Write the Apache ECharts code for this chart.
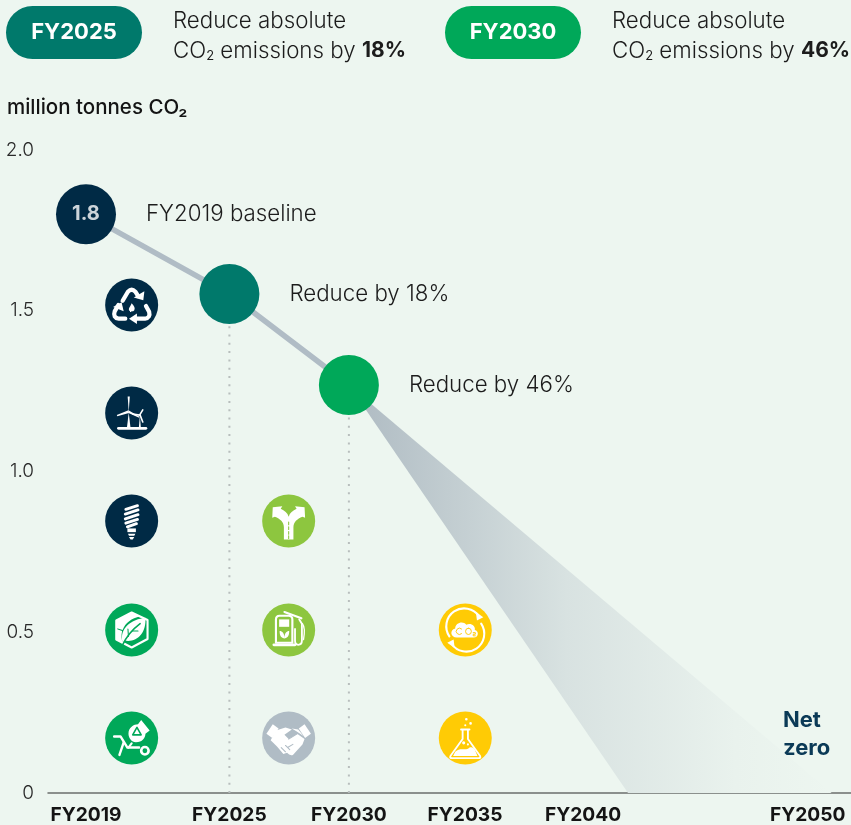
<!DOCTYPE html>
<html><head><meta charset="utf-8">
<style>html,body{margin:0;padding:0;background:#edf6f0}#c{width:851px;height:825px}</style>
<script src="https://cdn.jsdelivr.net/npm/echarts@6/dist/echarts.min.js"></script></head>
<body><div id="c"></div>
<script>
// ---- data ----
const yearTicks = [2019, 2025, 2030, 2034.86, 2039.8, 2049.2];
const yearLabels = ['FY2019', 'FY2025', 'FY2030', 'FY2035', 'FY2040', 'FY2050'];
const yTicks = [0, 0.5, 1.0, 1.5, 2.0];
const pathYears = [2019, 2025, 2030];
const pathValues = [1.8, 1.552, 1.269];
const pathColors = ['#002a45', '#00796b', '#00a859'];
const pathLabels = ['FY2019 baseline', 'Reduce by 18%', 'Reduce by 46%'];
const pathSizes = [60, 60, 60];
const wedgePoints = [[2030, 1.269], [2041.68, 0], [2050.2, 0]];
const iconX = [2020.91, 2020.91, 2020.91, 2020.91, 2020.91, 2027.48, 2027.48, 2027.48, 2034.87, 2034.87];
const iconY = [1.518, 1.182, 0.846, 0.507, 0.171, 0.846, 0.507, 0.171, 0.507, 0.171];
const iconColors = ['#002a45', '#002a45', '#002a45', '#00a859', '#00a859', '#8dc63f', '#8dc63f', '#b0bcc5', '#ffcb05', '#ffcb05'];
const iconNames = ['recycle', 'wind', 'bulb', 'cube', 'barrow', 'road', 'pump', 'hands', 'cycle', 'flask'];

// ---- icon glyphs in a 100x100 box: [path, fill, stroke, strokeWidth]; 'bg' is the disc colour ----
const W = '#fff';
const glyphs = {
  recycle: [
    ['M33 42 L43 25 Q50 18 57 25 L62 33', null, W, 8],
    ['M54 36 L72 41 L74 24 Z', W],
    ['M77 52 L83 63 Q86 74 75 76 L58 76', null, W, 8],
    ['M60 66 L45 76 L60 86 Z', W],
    ['M38 76 L26 76 Q14 74 18 62 L25 50', null, W, 8],
    ['M15 54 L31 45 L35 62 Z', W],
    ['M50 47 C55 52 57 56 55 60 C53 63 47 63 45 60 C44 55 48 53 50 47 Z', W]
  ],
  wind: [
    ['M25 79 H77', null, W, 5],
    ['M41 79 L44.500 49 L48 79 Z', W],
    ['M44.500 48 L42.500 19 L46.500 19 Z', W],
    ['M44 45 L22 54 L23 56 L45 50 Z', W],
    ['M44 45 L65 57 L64 59 L44 50 Z', W],
    ['M63.500 79 L65.500 55 L67.500 79 Z', W],
    ['M65 54 L71 44', null, W, 3],
    ['M65 54 L52 52', null, W, 3],
    ['M66 54 L71 67', null, W, 3]
  ],
  bulb: [
    ['M39 28 L61 21 M38 37 L62 29 M38 46 L62 38 M39 54 L61 47 M42 61 L59 55', null, W, 5.5],
    ['M42 64 H58 V71 H42 Z', W],
    ['M43 74 H57 L55 78 H45 Z M45 80 H55 L52 85 H48 Z', W]
  ],
  cube: [
    ['M50 17 L80 31 L80 67 L50 83 L21 68 L21 32 Z', null, W, 4],
    ['M21 32 L50 17 L66 24 C50 28 38 36 33 50 L21 46 Z', W],
    ['M21 48 L32 52 C30 60 31 68 33 74 L21 68 Z', W],
    ['M33 74 C26 46 50 30 76 27 C78 56 60 74 37 70 Z', W],
    ['M32 80 C40 62 50 50 66 38', null, 'bg', 3],
    ['M44 62 L43 48 M52 52 L62 52', null, 'bg', 2]
  ],
  barrow: [
    ['M44 42 C44 30 54 24 62 24 L68 16 L84 36 L76 42 C76 50 70 58 58 58 C50 58 44 50 44 42 Z', W],
    ['M60 30 L52 44 L68 44 Z', null, 'bg', 3],
    ['M17 47 H29 L42 68 H64', null, W, 4.500],
    ['M35 58 L27 82', null, W, 4.500],
    ['M75 74 m-7 0 a7 7 0 1 0 14 0 a7 7 0 1 0 -14 0', null, W, 5],
    ['M50 60 L44 68', null, W, 4]
  ],
  road: [
    ['M41 85 L41 62 C41 52 34 46 24 42 L19 44 L20 24 L38 22 L35 27 C42 30 48 35 50 42 C52 35 58 30 65 27 L62 22 L80 24 L81 44 L76 42 C66 46 59 52 59 62 L59 85 Z', W],
    ['M50 52 V57 M50 61 V66 M50 70 V75 M50 78 V83', null, 'bg', 2]
  ],
  pump: [
    ['M22 78 H62', null, W, 5],
    ['M26 74 V30 Q26 23 33 23 H50 Q57 23 57 30 V74 Z', null, W, 4],
    ['M32 30 H51 V44 H32 Z', W],
    ['M42 66 C33 65 33 56 33 52 C38 52 42 56 42 66 C42 56 46 52 51 52 C51 56 51 65 42 66 Z', W],
    ['M42 16 L74 28', null, W, 4],
    ['M70 30 L75 38 V70 Q75 78 68 78 Q62 78 62 70 V48', null, W, 3.500],
    ['M76 38 Q82 46 78 68', null, W, 2.500]
  ],
  hands: [
    ['M8 42 L20 24 L31 32 L19 50 Z', W],
    ['M92 42 L80 24 L69 32 L81 50 Z', W],
    ['M26 36 L44 30 L56 34 L42 44 L50 52 L66 42 L80 52 L76 62 L58 82 Q52 84 47 78 L40 80 L28 66 L16 54 Z', W],
    ['M56 32 L68 34 L78 46 L66 38 Z', W],
    ['M50 52 L66 42 M58 62 L48 68 M52 72 L44 64 M44 76 L36 68', null, 'bg', 2]
  ],
  cycle: [
    ['M20 62 A33 33 0 0 1 76 24', null, W, 4],
    ['M80 38 A33 33 0 0 1 24 76', null, W, 4],
    ['M70 16 L84 26 L72 32 Z', W],
    ['M30 84 L16 74 L28 68 Z', W],
    ['M34 64 C22 64 20 50 31 47 C31 36 46 32 52 40 C60 36 70 42 68 50 C76 52 76 64 66 64 Z', W],
    ['M43 48 A6 6 0 1 0 43 57 M56 46.500 a5.500 6 0 1 0 0.010 0 M65 55 h4 v3 h-4 v3 h4', null, 'bg', 1.8]
  ],
  flask: [
    ['M42 34 H58 M45 34 V52 L22 84 Q20 88 25 88 H75 Q80 88 78 84 L55 52 V34', null, W, 3.500],
    ['M31 76 C42 66 50 76 58 68 C62 66 66 68 68 72 L73 84 H27 Z', W],
    ['M52 12 a2.500 2.500 0 1 0 0.010 0 M60 20 a2.500 2.500 0 1 0 0.010 0 M50 24 a2 2 0 1 0 0.010 0 M47 56 a3 3 0 1 0 0.010 0 M55 60 a2 2 0 1 0 0.010 0', W]
  ]
};
const ICON_SIZE = 53;

const chart = echarts.init(document.getElementById('c'), null, {renderer: 'canvas'});
const FONT = 'Inter';
const INK = '#1c1c1c';
const BODY = 22.3;

function textLine(x, y, text, rich) {
  return {type: 'text', x: x, y: y, style: {text: text, fontFamily: FONT, fontWeight: 300, fontSize: BODY, fill: INK, rich: rich, verticalAlign: 'middle'}};
}
const headRich = {
  n: {fontFamily: FONT, fontWeight: 300, fontSize: BODY, color: INK},
  s: {fontFamily: FONT, fontWeight: 400, fontSize: 13, color: INK, verticalAlign: 'bottom', padding: [10, 0, 0, 0]},
  b: {fontFamily: FONT, fontWeight: 700, fontSize: 21, color: INK}
};
function badge(x, color, label) {
  return {type: 'rect', x: x, y: 6, shape: {width: 136, height: 53, r: 26.5}, style: {fill: color},
    textContent: {style: {text: label, fontFamily: FONT, fontWeight: 700, fontSize: 22, fill: '#fff', padding: [2, 0, 0, 0]}},
    textConfig: {position: 'inside'}};
}

chart.setOption({
  backgroundColor: '#edf6f0',
  animation: false,
  grid: {left: 48, right: 0, top: 150, bottom: 32},
  xAxis: {
    type: 'value', min: 2017.41, max: 2051.01,
    splitLine: {show: false}, axisTick: {show: false},
    axisLine: {show: true, onZero: false, lineStyle: {color: '#6b6f6c', width: 1.5}},
    axisLabel: {
      customValues: yearTicks, margin: 13, color: '#141414',
      fontFamily: FONT, fontWeight: 700, fontSize: 19.2,
      formatter: v => yearLabels[yearTicks.indexOf(v)] || ''
    }
  },
  yAxis: {
    type: 'value', min: 0, max: 2, interval: 0.5,
    splitLine: {show: false}, axisTick: {show: false}, axisLine: {show: false},
    name: 'million tonnes CO\u2082',
    nameLocation: 'end', nameGap: 32,
    nameTextStyle: {align: 'left', padding: [0, 0, 0, -41], color: '#141414', fontFamily: FONT, fontWeight: 500, fontSize: 20.5},
    axisLabel: {
      customValues: yTicks, margin: 14, color: '#2a2a2a',
      fontFamily: FONT, fontWeight: 300, fontSize: 19, padding: [3, 0, 0, 0],
      formatter: v => (v === 0 ? '0' : v.toFixed(1))
    }
  },
  graphic: {elements: [
    badge(6, '#00796b', 'FY2025'),
    badge(445, '#00a859', 'FY2030'),
    textLine(173, 21, '{n|Reduce absolute}', headRich),
    textLine(173, 51, '{n|CO}{s|2}{n| emissions by }{b|18%}', headRich),
    textLine(612, 21, '{n|Reduce absolute}', headRich),
    textLine(612, 51, '{n|CO}{s|2}{n| emissions by }{b|46%}', headRich),
    {type: 'text', x: 783, y: 720, style: {text: 'Net', fontFamily: FONT, fontWeight: 700, fontSize: 22, fill: '#0b3a57', verticalAlign: 'middle'}},
    {type: 'text', x: 783, y: 748, style: {text: 'zero', fontFamily: FONT, fontWeight: 700, fontSize: 22, fill: '#0b3a57', verticalAlign: 'middle'}}
  ]},
  series: [
    {
      name: 'Pathway wedge', type: 'custom', coordinateSystem: 'cartesian2d', z: 1, silent: true,
      data: wedgePoints,
      encode: {x: 0, y: 1},
      renderItem: (params, api) => {
        if (params.dataIndex !== 0) return null;
        return {type: 'polygon', shape: {points: wedgePoints.map(p => api.coord(p))},
          style: {fill: new echarts.graphic.LinearGradient(0, 0, 1, 0, [
            {offset: 0, color: '#aebac2'}, {offset: 0.45, color: '#d8e2e1'}, {offset: 0.8, color: '#e9f2ed'}, {offset: 1, color: '#edf6f0'}])}};
      }
    },
    {
      name: 'FY2025 drop', type: 'line', z: 2, symbol: 'none', silent: true,
      data: [[pathYears[1], 0], [pathYears[1], pathValues[1]]],
      lineStyle: {color: '#b8bebd', width: 2, type: [2, 6.3]}
    },
    {
      name: 'FY2030 drop', type: 'line', z: 2, symbol: 'none', silent: true,
      data: [[pathYears[2], 0], [pathYears[2], pathValues[2]]],
      lineStyle: {color: '#b8bebd', width: 2, type: [2, 6.3]}
    },
    {
      name: 'Pathway', type: 'line', z: 3, symbol: 'none', silent: true,
      data: pathYears.map((y, i) => [y, pathValues[i]]),
      lineStyle: {color: '#b0bcc5', width: 5.5}
    },
    {
      name: 'Milestones', type: 'scatter', z: 4, silent: true,
      data: pathYears.map((y, i) => ({
        value: [y, pathValues[i]], symbolSize: pathSizes[i],
        itemStyle: {color: pathColors[i], opacity: 1},
        label: {show: true, position: 'right', distance: 30, formatter: pathLabels[i], padding: [2, 0, 0, 0],
          color: INK, fontFamily: FONT, fontWeight: 300, fontSize: BODY}
      }))
    },
    {
      name: 'Baseline value', type: 'scatter', z: 5, silent: true, symbolSize: 1,
      itemStyle: {color: pathColors[0]},
      data: [[pathYears[0], pathValues[0]]],
      label: {show: true, position: 'inside', formatter: p => p.value[1].toFixed(1),
        color: '#fff', fontFamily: FONT, fontWeight: 700, fontSize: 20}
    },
    {
      name: 'Icons', type: 'custom', coordinateSystem: 'cartesian2d', z: 6, silent: true,
      data: iconX.map((x, i) => [x, iconY[i], i]),
      encode: {x: 0, y: 1},
      renderItem: (params, api) => {
        const c = api.coord([api.value(0), api.value(1)]);
        const i = api.value(2);
        const disc = iconColors[i];
        const s = ICON_SIZE / 100;
        const kids = [{type: 'circle', shape: {cx: 50, cy: 50, r: 50}, style: {fill: disc}}];
        glyphs[iconNames[i]].forEach(g => {
          const col = v => (v === 'bg' ? disc : v);
          kids.push({
            type: 'path',
            shape: {pathData: 'M0 0 M100 100 ' + g[0], x: 0, y: 0, width: 100, height: 100, layout: 'cover'},
            style: {fill: g[1] ? col(g[1]) : 'none', stroke: g[2] ? col(g[2]) : 'none', lineWidth: g[3] || 0, lineCap: 'round', lineJoin: 'round'}
          });
        });
        return {type: 'group', x: c[0] - ICON_SIZE / 2, y: c[1] - ICON_SIZE / 2, scaleX: s, scaleY: s, children: kids};
      }
    }
  ]
});
</script></body></html>
